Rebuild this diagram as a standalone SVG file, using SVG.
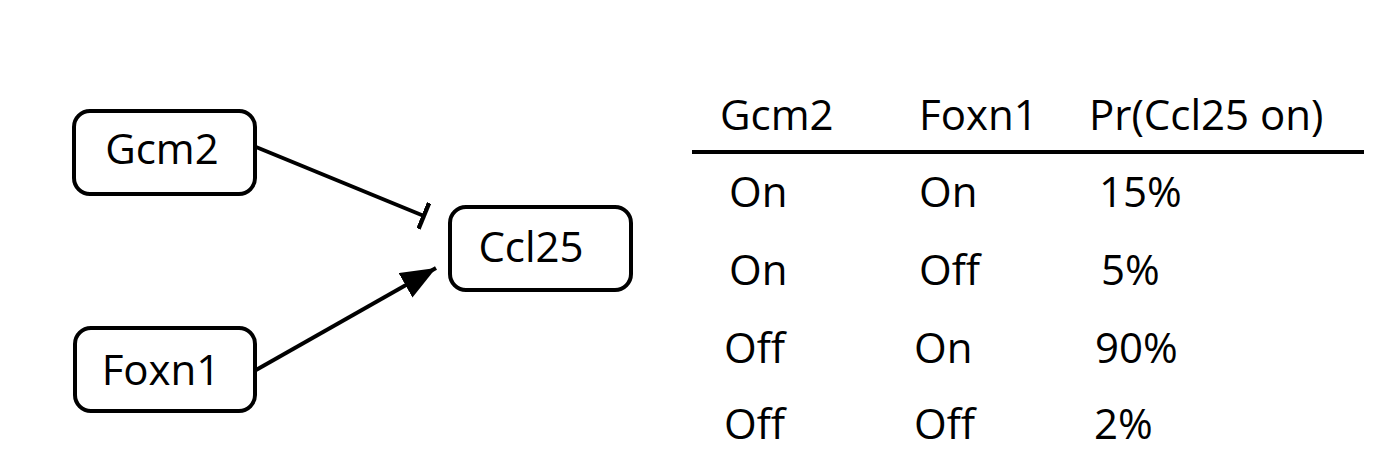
<svg xmlns="http://www.w3.org/2000/svg" width="1396" height="476" viewBox="0 0 1396 476">
  <style>
    .box { fill: #ffffff; stroke: #000000; stroke-width: 4; }
    .lbl { font-family: "Open Sans", "Liberation Sans", sans-serif; font-size: 42px; fill: #000000; }
    .mid { text-anchor: middle; }
    .edge { stroke: #000000; stroke-width: 4; fill: none; }
  </style>
  <defs>
    <marker id="arrow" markerUnits="userSpaceOnUse" markerWidth="38" markerHeight="30" refX="35" refY="14" orient="auto">
      <path d="M0,0 L35,14 L0,28 z" fill="#000000"/>
    </marker>
    <marker id="bar" markerUnits="userSpaceOnUse" markerWidth="5" markerHeight="28" refX="2.5" refY="14" orient="auto">
      <rect x="0" y="0" width="4.5" height="28" fill="#000000"/>
    </marker>
  </defs>
  <rect width="1396" height="476" fill="#ffffff"/>

  <g id="connectors">
    <line class="edge" x1="256" y1="147" x2="424" y2="216" marker-end="url(#bar)"/>
    <line class="edge" x1="256" y1="370" x2="436" y2="268" marker-end="url(#arrow)"/>
  </g>

  <g id="node-gcm2">
    <rect class="box" x="74" y="111" width="181" height="83" rx="16" ry="16"/>
    <text class="lbl mid" x="162" y="164">Gcm2</text>
  </g>
  <g id="node-foxn1">
    <rect class="box" x="75" y="328" width="180" height="83" rx="16" ry="16"/>
    <text class="lbl mid" x="161" y="385">Foxn1</text>
  </g>
  <g id="node-ccl25">
    <rect class="box" x="450" y="207" width="181" height="83" rx="16" ry="16"/>
    <text class="lbl mid" x="531" y="262">Ccl25</text>
  </g>

  <g id="table">
    <text class="lbl" x="720" y="130">Gcm2</text>
    <text class="lbl" x="919" y="130">Foxn1</text>
    <text class="lbl" x="1089" y="130">Pr(Ccl25 on)</text>
    <line x1="692" y1="152" x2="1364" y2="152" stroke="#000000" stroke-width="4"/>

    <text class="lbl" x="729" y="207">On</text>
    <text class="lbl" x="919" y="207">On</text>
    <text class="lbl" x="1099" y="207">15%</text>

    <text class="lbl" x="729" y="285">On</text>
    <text class="lbl" x="919" y="285">Off</text>
    <text class="lbl" x="1101" y="285">5%</text>

    <text class="lbl" x="724" y="363">Off</text>
    <text class="lbl" x="914" y="363">On</text>
    <text class="lbl" x="1095" y="363">90%</text>

    <text class="lbl" x="724" y="439">Off</text>
    <text class="lbl" x="914" y="439">Off</text>
    <text class="lbl" x="1094" y="439">2%</text>
  </g>
</svg>
